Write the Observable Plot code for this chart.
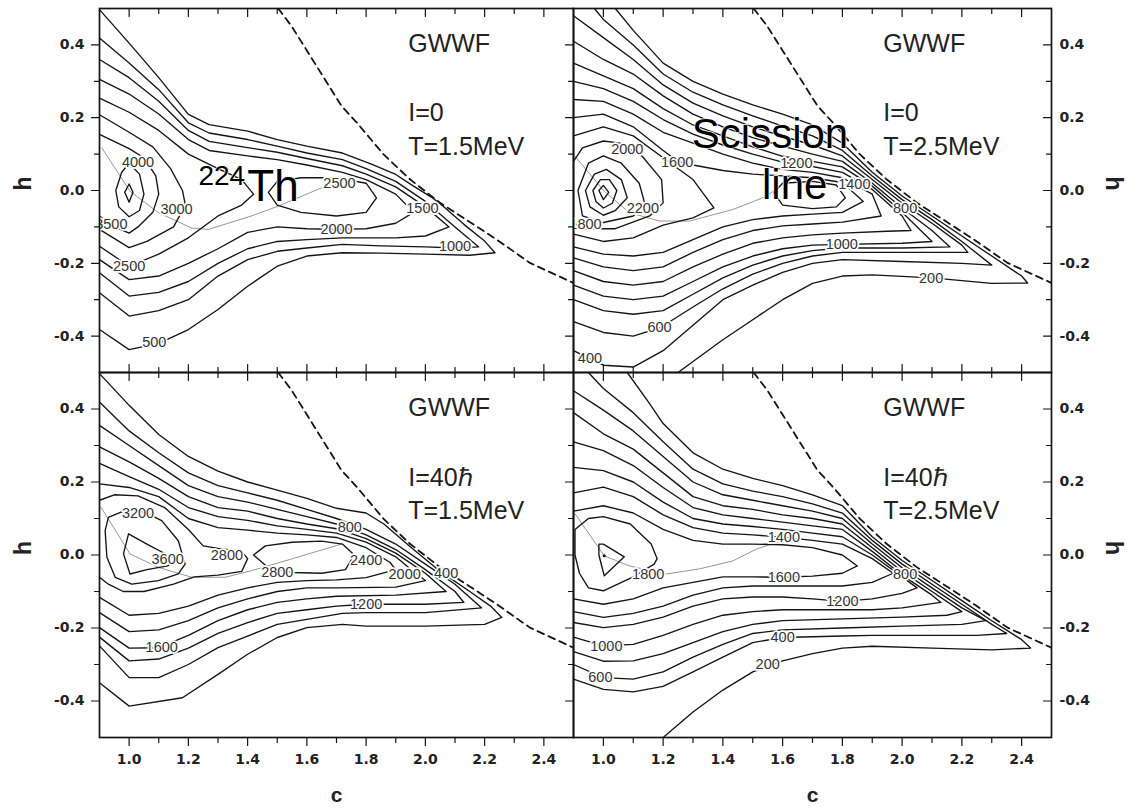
<!DOCTYPE html>
<html>
<head>
<meta charset="utf-8">
<script src="https://cdn.jsdelivr.net/npm/d3@7"></script>
<script src="https://cdn.jsdelivr.net/npm/@observablehq/plot@0.6"></script>
<style>
  html, body { margin: 0; padding: 0; background: #fff; }
  #fig { position: relative; width: 1134px; height: 810px; overflow: hidden; background: #fff; }
</style>
</head>
<body>
<div id="fig"></div>
<script>
// ---------- tick values ----------
const X_MAJOR = [1.0, 1.2, 1.4, 1.6, 1.8, 2.0, 2.2, 2.4];
const X_MINOR = [1.1, 1.3, 1.5, 1.7, 1.9, 2.1, 2.3];
const Y_MAJOR = [-0.4, -0.2, 0.0, 0.2, 0.4];
const Y_MINOR = [-0.3, -0.1, 0.1, 0.3];

// ---------- scission line (c, h) ----------
const scission = [[1.503,0.5],[1.548,0.452],[1.605,0.378],[1.661,0.305],[1.717,0.232],[1.769,0.186],[1.859,0.099],[1.949,0.03],[2.05,-0.034],[2.151,-0.087],[2.241,-0.135],[2.353,-0.199],[2.5,-0.254]];

// ---------- panel 1 : I=0, T=1.5 MeV ----------
const p1Contours = [
 [500, [[0.9,0.497],[1.0,0.405],[1.1,0.31],[1.2,0.209],[1.27,0.181],[1.4,0.163],[1.5,0.14],[1.6,0.122],[1.72,0.103],[1.82,0.072],[1.9,0.044],[1.96,0.012],[2.02,-0.018],[2.06,-0.043],[2.13,-0.093],[2.2,-0.139],[2.235,-0.171],[2.15,-0.178],[2.0,-0.175],[1.85,-0.172],[1.72,-0.171],[1.6,-0.18],[1.5,-0.208],[1.4,-0.263],[1.3,-0.327],[1.2,-0.382],[1.1,-0.42],[1.0,-0.437],[0.9,-0.382]]],
 [1000, [[0.9,0.419],[1.0,0.35],[1.1,0.277],[1.2,0.186],[1.27,0.158],[1.4,0.14],[1.5,0.122],[1.6,0.103],[1.72,0.085],[1.8,0.06],[1.9,0.025],[2.0,-0.03],[2.1,-0.1],[2.18,-0.155],[2.1,-0.158],[2.0,-0.155],[1.85,-0.152],[1.72,-0.148],[1.6,-0.158],[1.5,-0.167],[1.4,-0.19],[1.3,-0.235],[1.2,-0.3],[1.1,-0.33],[1.0,-0.345],[0.9,-0.281]]],
 [1500, [[0.9,0.36],[1.0,0.31],[1.1,0.245],[1.2,0.165],[1.27,0.135],[1.4,0.118],[1.5,0.105],[1.6,0.088],[1.72,0.068],[1.8,0.045],[1.9,0.01],[2.0,-0.045],[2.08,-0.1],[2.0,-0.125],[1.9,-0.13],[1.72,-0.13],[1.6,-0.135],[1.5,-0.14],[1.4,-0.16],[1.3,-0.2],[1.2,-0.25],[1.1,-0.28],[1.0,-0.29],[0.9,-0.226]]],
 [2000, [[0.9,0.305],[1.0,0.265],[1.1,0.21],[1.2,0.14],[1.27,0.11],[1.4,0.095],[1.5,0.085],[1.6,0.07],[1.72,0.05],[1.8,0.03],[1.9,-0.01],[1.96,-0.06],[1.9,-0.09],[1.8,-0.105],[1.7,-0.107],[1.6,-0.105],[1.5,-0.1],[1.4,-0.115],[1.3,-0.16],[1.2,-0.2],[1.1,-0.235],[1.0,-0.245],[0.9,-0.19]]],
 [2500, [[0.9,0.254],[1.0,0.215],[1.1,0.165],[1.2,0.1],[1.3,0.06],[1.38,0.03],[1.42,-0.01],[1.38,-0.04],[1.3,-0.07],[1.2,-0.13],[1.1,-0.175],[1.0,-0.208],[0.9,-0.153]]],
 [2500, [[1.47,-0.005],[1.5,0.025],[1.58,0.035],[1.7,0.035],[1.8,0.02],[1.835,-0.02],[1.8,-0.06],[1.7,-0.07],[1.58,-0.06],[1.5,-0.04],[1.47,-0.005]]],
 [3000, [[0.9,0.208],[1.0,0.16],[1.08,0.12],[1.14,0.06],[1.18,0.0],[1.19,-0.04],[1.15,-0.1],[1.06,-0.14],[1.0,-0.157],[0.9,-0.107]]],
 [3500, [[0.9,0.154],[1.0,0.115],[1.05,0.09],[1.09,0.04],[1.1,-0.01],[1.08,-0.06],[1.03,-0.1],[1.0,-0.117],[0.95,-0.1],[0.9,-0.07]]],
 [4000, [[0.955,0.0],[0.975,0.05],[1.0,0.075],[1.035,0.045],[1.05,-0.01],[1.035,-0.055],[1.0,-0.072],[0.965,-0.045],[0.955,0.0]]],
 [4500, [[0.985,-0.005],[1.0,0.018],[1.013,-0.005],[1.0,-0.032],[0.985,-0.005]]]
];
const p1Labels = [[1.03,0.076,"4000"],[1.16,-0.052,"3000"],[0.94,-0.093,"3500"],[1.0,-0.208,"2500"],[1.085,-0.418,"500"],[1.71,0.02,"2500"],[1.70,-0.107,"2000"],[1.99,-0.048,"1500"],[2.1,-0.153,"1000"]];
const p1Path = [[0.908,0.117],[1.003,-0.002],[1.099,-0.061],[1.211,-0.103],[1.267,-0.107],[1.413,-0.07],[1.503,-0.043],[1.649,0.007],[1.72,0.02]];

// ---------- panel 2 : I=0, T=2.5 MeV ----------
const p2Contours = [
 [200, [[1.04,0.5],[1.1,0.44],[1.2,0.35],[1.3,0.3],[1.4,0.265],[1.5,0.235],[1.6,0.21],[1.7,0.18],[1.8,0.13],[1.9,0.05],[2.0,-0.015],[2.1,-0.07],[2.2,-0.125],[2.3,-0.18],[2.4,-0.235],[2.42,-0.254],[2.3,-0.255],[2.1,-0.24],[1.9,-0.232],[1.8,-0.235],[1.7,-0.255],[1.6,-0.3],[1.5,-0.355],[1.4,-0.41],[1.3,-0.47],[1.25,-0.5]]],
 [400, [[0.97,0.5],[1.0,0.47],[1.1,0.4],[1.2,0.32],[1.3,0.27],[1.4,0.235],[1.5,0.205],[1.6,0.177],[1.7,0.15],[1.8,0.11],[1.9,0.04],[2.0,-0.025],[2.1,-0.08],[2.2,-0.14],[2.3,-0.205],[2.2,-0.2],[2.0,-0.195],[1.8,-0.19],[1.7,-0.2],[1.6,-0.225],[1.5,-0.26],[1.4,-0.3],[1.3,-0.37],[1.2,-0.44],[1.1,-0.485],[1.0,-0.48],[0.9,-0.44]]],
 [600, [[0.9,0.48],[1.0,0.42],[1.1,0.36],[1.2,0.29],[1.3,0.24],[1.4,0.205],[1.5,0.175],[1.6,0.149],[1.7,0.125],[1.8,0.095],[1.9,0.03],[2.0,-0.035],[2.1,-0.09],[2.2,-0.15],[2.22,-0.17],[2.0,-0.17],[1.8,-0.17],[1.7,-0.18],[1.6,-0.2],[1.5,-0.23],[1.4,-0.27],[1.3,-0.32],[1.19,-0.377],[1.1,-0.4],[1.0,-0.39],[0.9,-0.36]]],
 [800, [[0.9,0.41],[1.0,0.36],[1.1,0.32],[1.2,0.26],[1.3,0.21],[1.4,0.175],[1.5,0.145],[1.6,0.122],[1.7,0.1],[1.8,0.08],[1.9,0.02],[2.0,-0.048],[2.1,-0.11],[2.16,-0.155],[2.0,-0.158],[1.8,-0.158],[1.7,-0.165],[1.6,-0.18],[1.5,-0.205],[1.4,-0.24],[1.3,-0.285],[1.2,-0.33],[1.1,-0.34],[1.0,-0.33],[0.9,-0.3]]],
 [1000, [[0.9,0.35],[1.0,0.315],[1.1,0.28],[1.2,0.225],[1.3,0.18],[1.4,0.15],[1.5,0.12],[1.6,0.094],[1.7,0.08],[1.8,0.065],[1.9,0.012],[2.0,-0.06],[2.1,-0.14],[2.0,-0.145],[1.8,-0.148],[1.7,-0.15],[1.6,-0.16],[1.5,-0.18],[1.4,-0.21],[1.3,-0.25],[1.2,-0.29],[1.1,-0.3],[1.0,-0.29],[0.9,-0.26]]],
 [1200, [[0.9,0.3],[1.0,0.28],[1.1,0.245],[1.2,0.195],[1.3,0.155],[1.4,0.125],[1.5,0.1],[1.6,0.078],[1.7,0.066],[1.8,0.05],[1.9,0.003],[2.0,-0.07],[2.03,-0.11],[1.95,-0.112],[1.8,-0.117],[1.7,-0.122],[1.6,-0.13],[1.5,-0.145],[1.4,-0.175],[1.3,-0.21],[1.2,-0.25],[1.1,-0.26],[1.0,-0.25],[0.9,-0.22]]],
 [1400, [[0.9,0.25],[1.0,0.245],[1.1,0.21],[1.2,0.16],[1.3,0.13],[1.4,0.1],[1.5,0.075],[1.6,0.058],[1.7,0.05],[1.8,0.035],[1.9,-0.01],[1.93,-0.07],[1.8,-0.087],[1.7,-0.092],[1.6,-0.097],[1.5,-0.11],[1.4,-0.135],[1.3,-0.17],[1.2,-0.21],[1.1,-0.22],[1.0,-0.21],[0.9,-0.185]]],
 [1600, [[0.9,0.2],[1.0,0.21],[1.1,0.175],[1.2,0.11],[1.25,0.08],[1.3,0.07],[1.4,0.055],[1.5,0.045],[1.6,0.04],[1.7,0.035],[1.8,0.022],[1.87,-0.03],[1.8,-0.06],[1.7,-0.065],[1.6,-0.07],[1.5,-0.08],[1.4,-0.1],[1.3,-0.135],[1.2,-0.17],[1.1,-0.18],[1.0,-0.175],[0.9,-0.155]]],
 [1800, [[0.9,0.15],[1.0,0.175],[1.1,0.15],[1.2,0.09],[1.3,0.03],[1.37,-0.048],[1.3,-0.075],[1.2,-0.095],[1.1,-0.13],[1.0,-0.14],[0.9,-0.12]]],
 [1800, [[1.57,-0.006],[1.6,0.02],[1.7,0.025],[1.78,0.015],[1.81,-0.02],[1.78,-0.045],[1.7,-0.05],[1.6,-0.04],[1.57,-0.006]]],
 [2000, [[0.9,0.08],[0.93,0.117],[1.0,0.136],[1.055,0.13],[1.13,0.094],[1.195,0.03],[1.2,-0.034],[1.155,-0.07],[1.04,-0.105],[0.94,-0.105],[0.9,-0.09]]],
 [2200, [[0.915,0.0],[0.95,0.075],[1.0,0.095],[1.06,0.075],[1.12,0.02],[1.14,-0.04],[1.1,-0.07],[1.0,-0.088],[0.93,-0.07],[0.915,0.0]]],
 [2400, [[0.94,0.0],[0.97,0.045],[1.01,0.058],[1.06,0.03],[1.08,-0.02],[1.04,-0.055],[1.0,-0.068],[0.955,-0.045],[0.94,0.0]]],
 [2600, [[0.965,0.0],[0.99,0.03],[1.02,0.03],[1.045,0.0],[1.03,-0.035],[1.0,-0.048],[0.975,-0.03],[0.965,0.0]]],
 [2800, [[0.985,0.0],[1.0,0.014],[1.018,-0.005],[1.0,-0.025],[0.985,0.0]]]
];
const p2Labels = [[1.08,0.113,"2000"],[1.247,0.076,"1600"],[1.132,-0.05,"2200"],[0.94,-0.093,"1800"],[1.646,0.074,"1200"],[1.84,0.016,"1400"],[2.01,-0.048,"800"],[1.798,-0.148,"1000"],[2.097,-0.24,"200"],[1.188,-0.377,"600"],[0.955,-0.46,"400"]];
const p2Path = [[0.905,0.094],[1.003,-0.002],[1.087,-0.061],[1.188,-0.084],[1.289,-0.084],[1.434,-0.052],[1.546,-0.016],[1.59,0.012]];

// ---------- panel 3 : I=40, T=1.5 MeV ----------
const p3Contours = [
 [400, [[0.9,0.497],[1.0,0.41],[1.1,0.33],[1.2,0.27],[1.3,0.23],[1.4,0.2],[1.5,0.178],[1.6,0.155],[1.7,0.128],[1.8,0.115],[1.86,0.085],[1.95,0.022],[2.05,-0.045],[2.15,-0.1],[2.22,-0.14],[2.258,-0.171],[2.2,-0.19],[2.0,-0.195],[1.8,-0.195],[1.72,-0.19],[1.6,-0.199],[1.5,-0.226],[1.4,-0.272],[1.3,-0.327],[1.18,-0.391],[1.0,-0.414],[0.9,-0.35]]],
 [800, [[0.9,0.419],[1.0,0.34],[1.1,0.28],[1.2,0.225],[1.3,0.19],[1.4,0.17],[1.5,0.15],[1.6,0.125],[1.7,0.1],[1.8,0.07],[1.9,0.03],[2.0,-0.025],[2.1,-0.08],[2.19,-0.145],[2.0,-0.158],[1.8,-0.158],[1.72,-0.16],[1.5,-0.19],[1.4,-0.222],[1.3,-0.254],[1.2,-0.3],[1.1,-0.336],[1.0,-0.336],[0.9,-0.249]]],
 [1200, [[0.9,0.355],[1.0,0.3],[1.1,0.245],[1.2,0.19],[1.3,0.16],[1.4,0.145],[1.5,0.125],[1.6,0.105],[1.7,0.085],[1.8,0.055],[1.9,0.015],[2.0,-0.04],[2.1,-0.1],[2.13,-0.13],[2.0,-0.135],[1.8,-0.135],[1.7,-0.14],[1.6,-0.15],[1.5,-0.16],[1.4,-0.185],[1.3,-0.215],[1.2,-0.255],[1.1,-0.285],[1.0,-0.29],[0.9,-0.225]]],
 [1600, [[0.9,0.296],[1.0,0.255],[1.1,0.21],[1.2,0.16],[1.3,0.13],[1.4,0.12],[1.5,0.1],[1.6,0.085],[1.7,0.072],[1.8,0.045],[1.9,0.005],[2.0,-0.05],[2.07,-0.1],[1.9,-0.11],[1.7,-0.113],[1.6,-0.12],[1.5,-0.13],[1.4,-0.15],[1.3,-0.18],[1.2,-0.22],[1.1,-0.254],[1.0,-0.255],[0.9,-0.199]]],
 [2000, [[0.9,0.251],[1.0,0.215],[1.1,0.18],[1.2,0.13],[1.3,0.105],[1.4,0.095],[1.5,0.08],[1.6,0.07],[1.7,0.06],[1.8,0.035],[1.9,-0.005],[1.96,-0.045],[2.0,-0.07],[1.9,-0.088],[1.7,-0.09],[1.6,-0.09],[1.5,-0.1],[1.4,-0.12],[1.3,-0.145],[1.2,-0.18],[1.1,-0.205],[1.0,-0.21],[0.9,-0.158]]],
 [2400, [[0.9,0.195],[1.0,0.185],[1.1,0.16],[1.2,0.1],[1.3,0.075],[1.4,0.068],[1.5,0.06],[1.6,0.055],[1.7,0.048],[1.8,0.02],[1.88,-0.02],[1.9,-0.04],[1.8,-0.062],[1.7,-0.068],[1.6,-0.07],[1.5,-0.075],[1.4,-0.09],[1.3,-0.11],[1.2,-0.14],[1.1,-0.16],[1.0,-0.165],[0.9,-0.116]]],
 [2800, [[0.9,0.15],[0.95,0.165],[1.03,0.162],[1.12,0.13],[1.2,0.07],[1.25,0.025],[1.3,0.018],[1.38,0.01],[1.4,-0.01],[1.38,-0.045],[1.3,-0.055],[1.22,-0.06],[1.15,-0.08],[1.05,-0.1],[0.98,-0.1],[0.93,-0.08],[0.9,-0.061]]],
 [2800, [[1.42,0.0],[1.46,0.025],[1.55,0.035],[1.65,0.038],[1.72,0.03],[1.76,0.0],[1.73,-0.04],[1.65,-0.05],[1.55,-0.048],[1.47,-0.035],[1.42,0.0]]],
 [3200, [[0.93,0.103],[0.987,0.122],[1.054,0.117],[1.11,0.094],[1.166,0.039],[1.189,-0.025],[1.166,-0.052],[1.099,-0.07],[1.009,-0.08],[0.953,-0.061],[0.925,-0.006],[0.919,0.067],[0.93,0.103]]],
 [3600, [[0.998,0.058],[1.06,0.03],[1.13,0.0],[1.16,-0.012],[1.13,-0.03],[1.06,-0.04],[1.003,-0.052],[0.981,0.003],[0.998,0.058]]]
];
const p3Labels = [[1.03,0.113,"3200"],[1.13,-0.011,"3600"],[1.33,0.0,"2800"],[1.5,-0.048,"2800"],[1.745,0.076,"800"],[1.8,-0.016,"2400"],[1.93,-0.052,"2000"],[2.07,-0.05,"400"],[1.8,-0.135,"1200"],[1.11,-0.254,"1600"]];
const p3Path = [[0.905,0.131],[1.003,0.003],[1.099,-0.034],[1.211,-0.061],[1.324,-0.061],[1.413,-0.043],[1.548,-0.011],[1.717,0.03]];

// ---------- panel 4 : I=40, T=2.5 MeV ----------
const p4Contours = [
 [200, [[1.08,0.5],[1.15,0.42],[1.2,0.36],[1.3,0.28],[1.4,0.235],[1.5,0.21],[1.6,0.19],[1.7,0.165],[1.8,0.135],[1.9,0.05],[2.0,-0.015],[2.1,-0.07],[2.2,-0.125],[2.3,-0.18],[2.4,-0.232],[2.43,-0.255],[2.3,-0.26],[2.1,-0.255],[1.9,-0.25],[1.8,-0.255],[1.7,-0.27],[1.6,-0.29],[1.5,-0.32],[1.4,-0.37],[1.3,-0.43],[1.2,-0.5]]],
 [400, [[0.95,0.5],[1.0,0.456],[1.1,0.39],[1.2,0.31],[1.3,0.235],[1.4,0.195],[1.5,0.175],[1.6,0.16],[1.7,0.14],[1.8,0.115],[1.9,0.04],[2.0,-0.025],[2.1,-0.08],[2.2,-0.135],[2.3,-0.19],[2.35,-0.215],[2.25,-0.22],[2.1,-0.22],[1.9,-0.22],[1.8,-0.222],[1.6,-0.226],[1.5,-0.24],[1.4,-0.28],[1.3,-0.32],[1.2,-0.36],[1.1,-0.375],[1.0,-0.368],[0.9,-0.34]]],
 [600, [[0.9,0.45],[1.0,0.397],[1.1,0.34],[1.2,0.27],[1.3,0.2],[1.4,0.165],[1.5,0.15],[1.6,0.135],[1.7,0.12],[1.8,0.1],[1.9,0.03],[2.0,-0.035],[2.1,-0.09],[2.2,-0.145],[2.28,-0.18],[2.2,-0.19],[2.0,-0.195],[1.8,-0.2],[1.6,-0.205],[1.5,-0.215],[1.4,-0.245],[1.3,-0.28],[1.2,-0.32],[1.1,-0.34],[1.0,-0.336],[0.9,-0.3]]],
 [800, [[0.9,0.39],[1.0,0.332],[1.1,0.29],[1.2,0.225],[1.3,0.16],[1.4,0.135],[1.5,0.125],[1.6,0.11],[1.7,0.1],[1.8,0.085],[1.9,0.02],[2.0,-0.045],[2.1,-0.1],[2.2,-0.155],[2.15,-0.165],[2.0,-0.17],[1.8,-0.175],[1.6,-0.18],[1.5,-0.19],[1.4,-0.21],[1.3,-0.24],[1.2,-0.27],[1.1,-0.29],[1.0,-0.291],[0.9,-0.265]]],
 [1000, [[0.9,0.31],[1.0,0.286],[1.1,0.245],[1.2,0.185],[1.3,0.13],[1.4,0.11],[1.5,0.1],[1.6,0.09],[1.7,0.08],[1.8,0.07],[1.9,0.01],[2.0,-0.055],[2.1,-0.11],[2.13,-0.13],[2.0,-0.145],[1.9,-0.15],[1.8,-0.15],[1.6,-0.15],[1.5,-0.155],[1.4,-0.165],[1.3,-0.19],[1.2,-0.22],[1.1,-0.245],[1.0,-0.249],[0.9,-0.225]]],
 [1200, [[0.9,0.24],[1.0,0.231],[1.1,0.2],[1.2,0.145],[1.3,0.1],[1.4,0.085],[1.5,0.078],[1.6,0.07],[1.7,0.06],[1.8,0.05],[1.9,0.0],[2.0,-0.06],[2.05,-0.09],[2.0,-0.105],[1.9,-0.12],[1.8,-0.127],[1.7,-0.12],[1.6,-0.115],[1.5,-0.115],[1.4,-0.12],[1.3,-0.14],[1.2,-0.17],[1.1,-0.19],[1.0,-0.199],[0.9,-0.185]]],
 [1400, [[0.9,0.17],[1.0,0.186],[1.1,0.16],[1.2,0.11],[1.3,0.075],[1.4,0.06],[1.5,0.055],[1.6,0.049],[1.7,0.04],[1.8,0.03],[1.9,-0.01],[1.97,-0.05],[1.9,-0.075],[1.8,-0.085],[1.7,-0.085],[1.6,-0.085],[1.5,-0.085],[1.4,-0.09],[1.3,-0.11],[1.2,-0.14],[1.1,-0.16],[1.0,-0.171],[0.9,-0.155]]],
 [1600, [[0.9,0.12],[1.0,0.135],[1.1,0.115],[1.2,0.07],[1.3,0.04],[1.4,0.03],[1.5,0.03],[1.6,0.028],[1.7,0.02],[1.8,0.0],[1.85,-0.03],[1.8,-0.05],[1.7,-0.058],[1.6,-0.061],[1.5,-0.06],[1.4,-0.06],[1.3,-0.075],[1.2,-0.09],[1.1,-0.12],[1.0,-0.135],[0.9,-0.12]]],
 [1800, [[0.905,0.07],[0.95,0.1],[1.0,0.105],[1.09,0.085],[1.16,0.03],[1.18,-0.01],[1.17,-0.025],[1.1,-0.06],[1.0,-0.098],[0.95,-0.09],[0.92,-0.05],[0.905,0.0],[0.905,0.07]]],
 [2000, [[0.985,0.03],[1.0,0.03],[1.07,-0.005],[1.003,-0.057],[0.985,0.0],[0.985,0.03]]]
];
const p4Labels = [[1.604,0.049,"1400"],[1.15,-0.052,"1800"],[1.604,-0.061,"1600"],[1.6,-0.226,"400"],[1.55,-0.3,"200"],[1.01,-0.25,"1000"],[0.99,-0.336,"600"],[1.8,-0.127,"1200"],[2.01,-0.052,"800"]];
const p4Path = [[0.905,0.113],[1.003,-0.002],[1.087,-0.03],[1.21,-0.052],[1.322,-0.038],[1.434,-0.016],[1.512,0.016],[1.6,0.04]];

// ---------- panel texts ----------
const p1Info = ["GWWF", "I=0", "T=1.5MeV"];
const p2Info = ["GWWF", "I=0", "T=2.5MeV"];
const p3Info = ["GWWF", "I=40\u210F", "T=1.5MeV"];
const p4Info = ["GWWF", "I=40\u210F", "T=2.5MeV"];

// ---------- drawing ----------
const FONT = "Liberation Sans, Arial, Helvetica, sans-serif";
const TICKFONT = "DejaVu Sans, Verdana, sans-serif";
const INK = "#141414";
const tickShape = {draw(ctx, l) { ctx.moveTo(0, 0); ctx.lineTo(0, -l); }};
const fig = document.getElementById("fig");

function tk(values, dim, frameAnchor, rotate, len) {
  return Plot.vector(values, {[dim]: d => d, frameAnchor, anchor: "start", length: len, rotate, shape: tickShape, stroke: INK, strokeWidth: 1.2});
}

function addPanel(p) {
  const lineData = p.contours.flatMap(([lev, pts], i) => pts.map(([c, h]) => ({id: i, lev, c, h})));
  const info = p.info.map((t, i) => ({t, h: [0.38, 0.19, 0.098][i]}));
  const marks = [
    Plot.line(p.path, {x: d => d[0], y: d => d[1], stroke: "#8a8a8a", strokeWidth: 0.9, clip: true}),
    Plot.line(lineData, {x: "c", y: "h", z: "id", stroke: INK, strokeWidth: 1.35, clip: true}),
    Plot.line(scission, {x: d => d[0], y: d => d[1], stroke: INK, strokeWidth: 1.8, strokeDasharray: "7,5", clip: true}),
    Plot.text(p.labels, {x: d => d[0], y: d => d[1], text: d => d[2], fontFamily: FONT, fontSize: 14.5, fill: "#333", stroke: "#fff", strokeWidth: 3.5, clip: true}),
    Plot.text(info, {x: p.infoX, y: "h", text: "t", textAnchor: "start", lineAnchor: "bottom", fontFamily: FONT, fontSize: 25, fill: "#222"})
  ];
  if (p.dot) marks.push(Plot.dot([p.dot], {x: d => d[0], y: d => d[1], r: 1.6, fill: INK}));
  if (p.notes) marks.push(Plot.text(p.notes, {x: "c", y: "h", text: "t", fontSize: "s", textAnchor: "start", lineAnchor: "bottom", fontFamily: FONT, fill: "#000", stroke: "#fff", strokeWidth: 1.5}));

  if (p.row === "top") {
    marks.push(tk(X_MAJOR, "x", "top", 180, 8), tk(X_MINOR, "x", "top", 180, 5), tk(X_MAJOR, "x", "bottom", 0, 8), tk(X_MINOR, "x", "bottom", 0, 5));
  } else {
    marks.push(tk(X_MAJOR, "x", "top", 180, 8), tk(X_MINOR, "x", "top", 180, 5), tk(X_MAJOR, "x", "bottom", 180, 8), tk(X_MINOR, "x", "bottom", 180, 5));
    marks.push(Plot.text(X_MAJOR, {x: d => d, text: d => d.toFixed(1), frameAnchor: "bottom", dy: 17, lineAnchor: "top", fontFamily: TICKFONT, fontWeight: "bold", fontSize: 14, fill: "#222"}));
    marks.push(Plot.text(["c"], {frameAnchor: "bottom", dy: 58, lineAnchor: "middle", fontFamily: FONT, fontWeight: "bold", fontSize: 21, fill: "#222"}));
  }
  if (p.side === "left") {
    marks.push(tk(Y_MAJOR, "y", "left", -90, 8), tk(Y_MINOR, "y", "left", -90, 5), tk(Y_MAJOR, "y", "right", -90, 8), tk(Y_MINOR, "y", "right", -90, 5));
    marks.push(Plot.text(Y_MAJOR, {y: d => d, text: d => d.toFixed(1), frameAnchor: "left", dx: -15, textAnchor: "end", lineAnchor: "middle", fontFamily: TICKFONT, fontWeight: "bold", fontSize: 14, fill: "#222"}));
    marks.push(Plot.text(["h"], {frameAnchor: "left", dx: -76, rotate: -90, lineAnchor: "middle", fontFamily: FONT, fontWeight: "bold", fontSize: 23, fill: "#222"}));
  } else {
    marks.push(tk(Y_MAJOR, "y", "right", -90, 8), tk(Y_MINOR, "y", "right", -90, 5));
    marks.push(Plot.text(Y_MAJOR, {y: d => d, text: d => d.toFixed(1), frameAnchor: "right", dx: 8, textAnchor: "start", lineAnchor: "middle", fontFamily: TICKFONT, fontWeight: "bold", fontSize: 14, fill: "#222"}));
    marks.push(Plot.text(["h"], {frameAnchor: "right", dx: 62, rotate: 90, lineAnchor: "middle", fontFamily: FONT, fontWeight: "bold", fontSize: 23, fill: "#222"}));
  }
  marks.push(Plot.frame({stroke: INK, strokeWidth: 1.7}));

  const svg = Plot.plot({
    width: p.w, height: p.h,
    marginLeft: p.ml, marginRight: p.mr, marginTop: p.mt, marginBottom: p.mb,
    x: {domain: [0.9, 2.5], axis: null},
    y: {domain: [-0.5, 0.5], axis: null},
    style: {background: "transparent", overflow: "visible"},
    marks
  });
  svg.style.position = "absolute";
  svg.style.left = p.left + "px";
  svg.style.top = p.top + "px";
  fig.appendChild(svg);
}

addPanel({left: 0, top: 0, w: 574, h: 373, ml: 99, mr: 1, mt: 8, mb: 1, row: "top", side: "left",
  contours: p1Contours, labels: p1Labels, path: p1Path, info: p1Info, infoX: 1.942,
  notes: [{c: 1.234, h: 0.014, t: "224", s: 28}, {c: 1.399, h: -0.028, t: "Th", s: 44}]});
addPanel({left: 573, top: 0, w: 561, h: 373, ml: 0, mr: 83, mt: 8, mb: 1, row: "top", side: "right",
  contours: p2Contours, labels: p2Labels, path: p2Path, info: p2Info, infoX: 1.937,
  notes: [{c: 1.296, h: 0.118, t: "Scission", s: 42}, {c: 1.531, h: -0.022, t: "line", s: 42}]});
addPanel({left: 0, top: 371, w: 574, h: 439, ml: 99, mr: 1, mt: 1, mb: 73, row: "bottom", side: "left",
  contours: p3Contours, labels: p3Labels, path: p3Path, info: p3Info, infoX: 1.942});
addPanel({left: 573, top: 371, w: 561, h: 439, ml: 0, mr: 83, mt: 1, mb: 73, row: "bottom", side: "right",
  contours: p4Contours, labels: p4Labels, path: p4Path, info: p4Info, infoX: 1.937, dot: [1.003, -0.002]});
</script>
</body>
</html>
